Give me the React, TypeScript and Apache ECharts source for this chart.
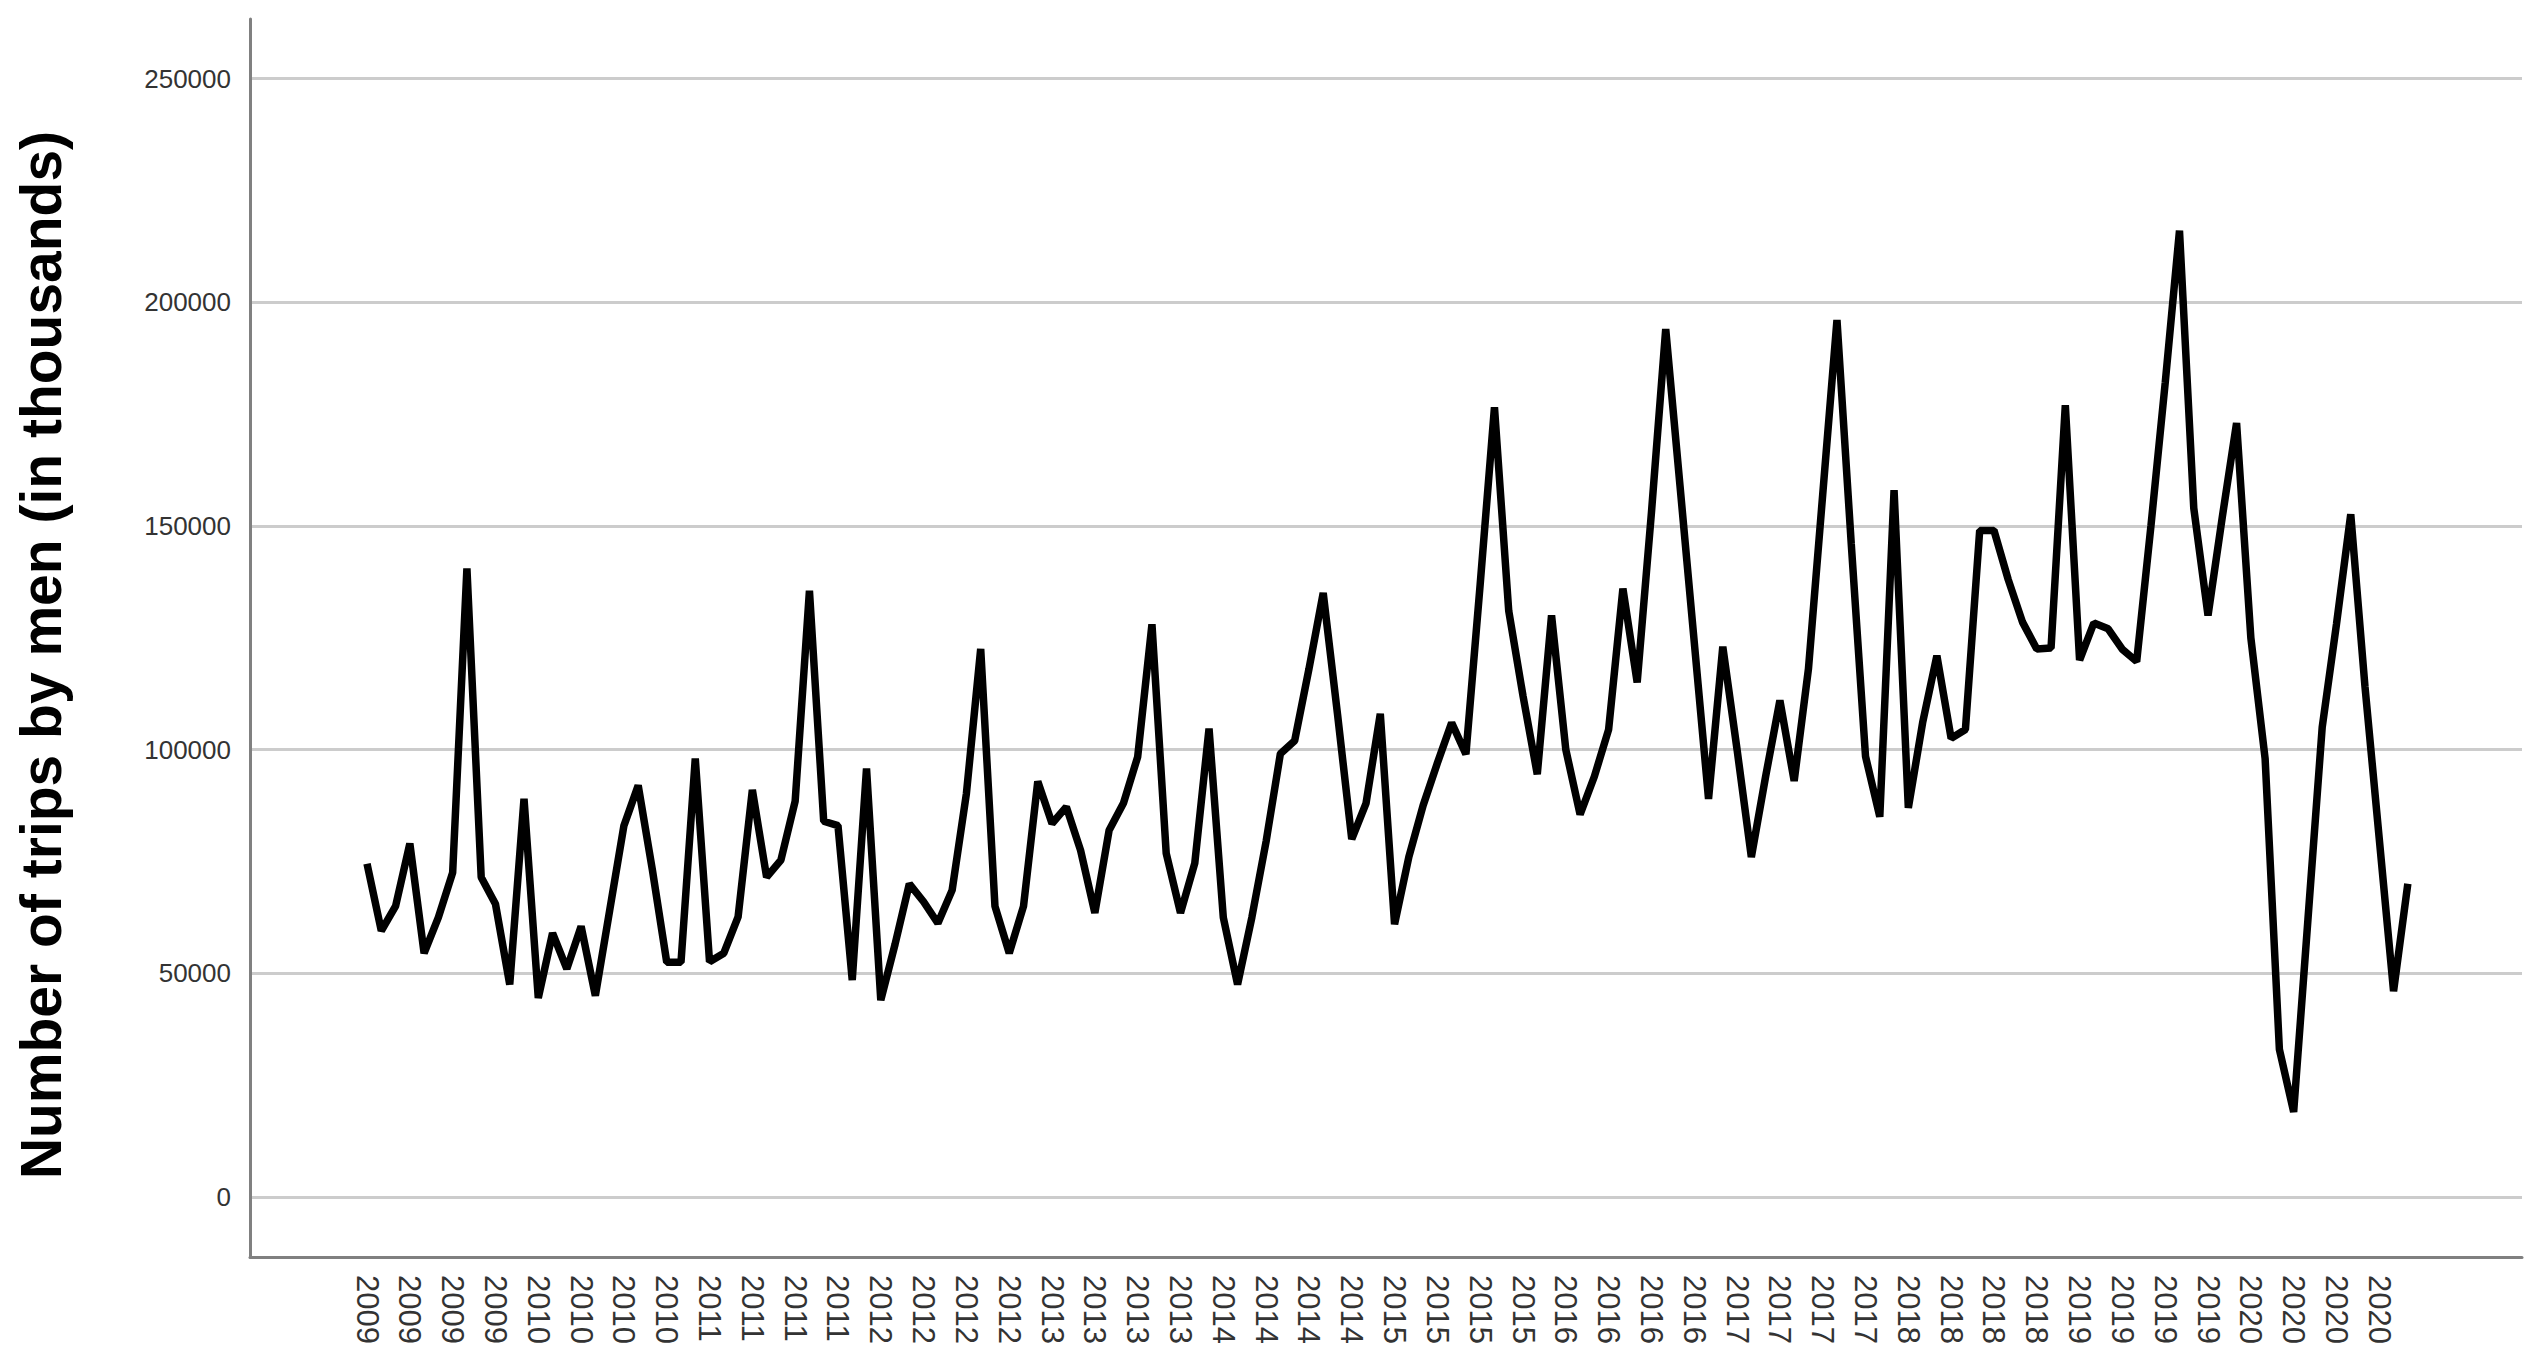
import React, { useEffect, useRef } from "react";
import * as echarts from "echarts";

// Monthly number of trips by men (in thousands), Jan–Dec of each year
const trips2009 = [74500, 59500, 65000, 79000, 54500, 62500, 72500, 140500, 71500, 65500, 47500, 89000];
const trips2010 = [44500, 59000, 51000, 60500, 45000, 64000, 83000, 92000, 73000, 52500, 52500, 98000];
const trips2011 = [52600, 54500, 62600, 91000, 71500, 75300, 88500, 135500, 84000, 83000, 48500, 95800];
const trips2012 = [44000, 56500, 70000, 66000, 61200, 68600, 90200, 122500, 65000, 54500, 65000, 92900];
const trips2013 = [83500, 87200, 77500, 63500, 82000, 88000, 98400, 128000, 76800, 63500, 74600, 104700];
const trips2014 = [62500, 47500, 62500, 79500, 99100, 102000, 118000, 135000, 108000, 80000, 88000, 108000];
const trips2015 = [61000, 76000, 87500, 97000, 106000, 99000, 137000, 176500, 131000, 112000, 94500, 130000];
const trips2016 = [100000, 85500, 94000, 104500, 136000, 115000, 153000, 194000, 159000, 124000, 89000, 123000];
const trips2017 = [100000, 76000, 94000, 111000, 93000, 118000, 157000, 196000, 146000, 98500, 85000, 158000];
const trips2018 = [87000, 106000, 121000, 102500, 104500, 149000, 149000, 138000, 128500, 122500, 122700, 177000];
const trips2019 = [120000, 128300, 127000, 122400, 119700, 150000, 182000, 216000, 154000, 130000, 152000, 173000];
const trips2020 = [125000, 98000, 33000, 19000, 62000, 105000, 128000, 152600, 114000, 80000, 46000, 70000];

// Tick labels shown every third month (quarterly)
const xTickLabels = [
  "2009", "2009", "2009", "2009",
  "2010", "2010", "2010", "2010",
  "2011", "2011", "2011", "2011",
  "2012", "2012", "2012", "2012",
  "2013", "2013", "2013", "2013",
  "2014", "2014", "2014", "2014",
  "2015", "2015", "2015", "2015",
  "2016", "2016", "2016", "2016",
  "2017", "2017", "2017", "2017",
  "2018", "2018", "2018", "2018",
  "2019", "2019", "2019", "2019",
  "2020", "2020", "2020", "2020",
];
const xTickPositions = [
  0, 3, 6, 9, 12, 15, 18, 21, 24, 27, 30, 33, 36, 39, 42, 45, 48, 51, 54, 57,
  60, 63, 66, 69, 72, 75, 78, 81, 84, 87, 90, 93, 96, 99, 102, 105, 108, 111,
  114, 117, 120, 123, 126, 129, 132, 135, 138, 141,
];
const yTicks = [0, 50000, 100000, 150000, 200000, 250000];
const yAxisTitle = "Number of trips by men (in thousands)";

const FONT = "'Liberation Sans', Arial, 'DejaVu Sans', sans-serif";

export default function App() {
  const ref = useRef<HTMLDivElement>(null);

  useEffect(() => {
    document.body.style.margin = "0";
    if (!ref.current) return;
    const chart = echarts.init(ref.current, undefined, { renderer: "svg" });

    const allValues = [
      ...trips2009, ...trips2010, ...trips2011, ...trips2012,
      ...trips2013, ...trips2014, ...trips2015, ...trips2016,
      ...trips2017, ...trips2018, ...trips2019, ...trips2020,
    ];
    const data = allValues.map((v, i) => [i, v]);

    chart.setOption({
      animation: false,
      backgroundColor: "#ffffff",
      grid: { left: 250, right: 13, top: 19, bottom: 105, containLabel: false },
      graphic: [
        {
          type: "text",
          x: 41,
          y: 655,
          rotation: Math.PI / 2,
          style: {
            text: yAxisTitle,
            font: `bold 57px ${FONT}`,
            fill: "#000000",
            textAlign: "center",
            textVerticalAlign: "middle",
          },
        },
      ],
      xAxis: {
        type: "value",
        min: -8.2,
        max: 151,
        axisLine: { show: true, onZero: false, lineStyle: { color: "#808080", width: 3 } },
        axisTick: { show: false, customValues: xTickPositions },
        splitLine: { show: false },
        axisLabel: {
          customValues: xTickPositions,
          rotate: -90,
          margin: 18,
          fontSize: 31,
          fontFamily: FONT,
          color: "#333333",
          formatter: (v: number) => xTickLabels[xTickPositions.indexOf(Math.round(v))] ?? "",
        },
      },
      yAxis: {
        type: "value",
        min: -13400,
        max: 263300,
        axisLine: { show: true, onZero: false, lineStyle: { color: "#808080", width: 3 } },
        axisTick: { show: false, customValues: yTicks },
        axisLabel: {
          customValues: yTicks,
          margin: 19,
          fontSize: 26,
          fontFamily: FONT,
          color: "#333333",
          formatter: (v: number) => String(Math.round(v)),
        },
        splitLine: { show: true, lineStyle: { color: "#cccccc", width: 3 } },
      },
      series: [
        {
          type: "line",
          data,
          showSymbol: false,
          symbol: "none",
          lineStyle: { color: "#000000", width: 7.5 },
          z: 3,
        },
      ],
    });

    return () => chart.dispose();
  }, []);

  return (
    <div
      ref={ref}
      style={{ position: "absolute", left: 0, top: 0, width: 2535, height: 1362 }}
    />
  );
}
